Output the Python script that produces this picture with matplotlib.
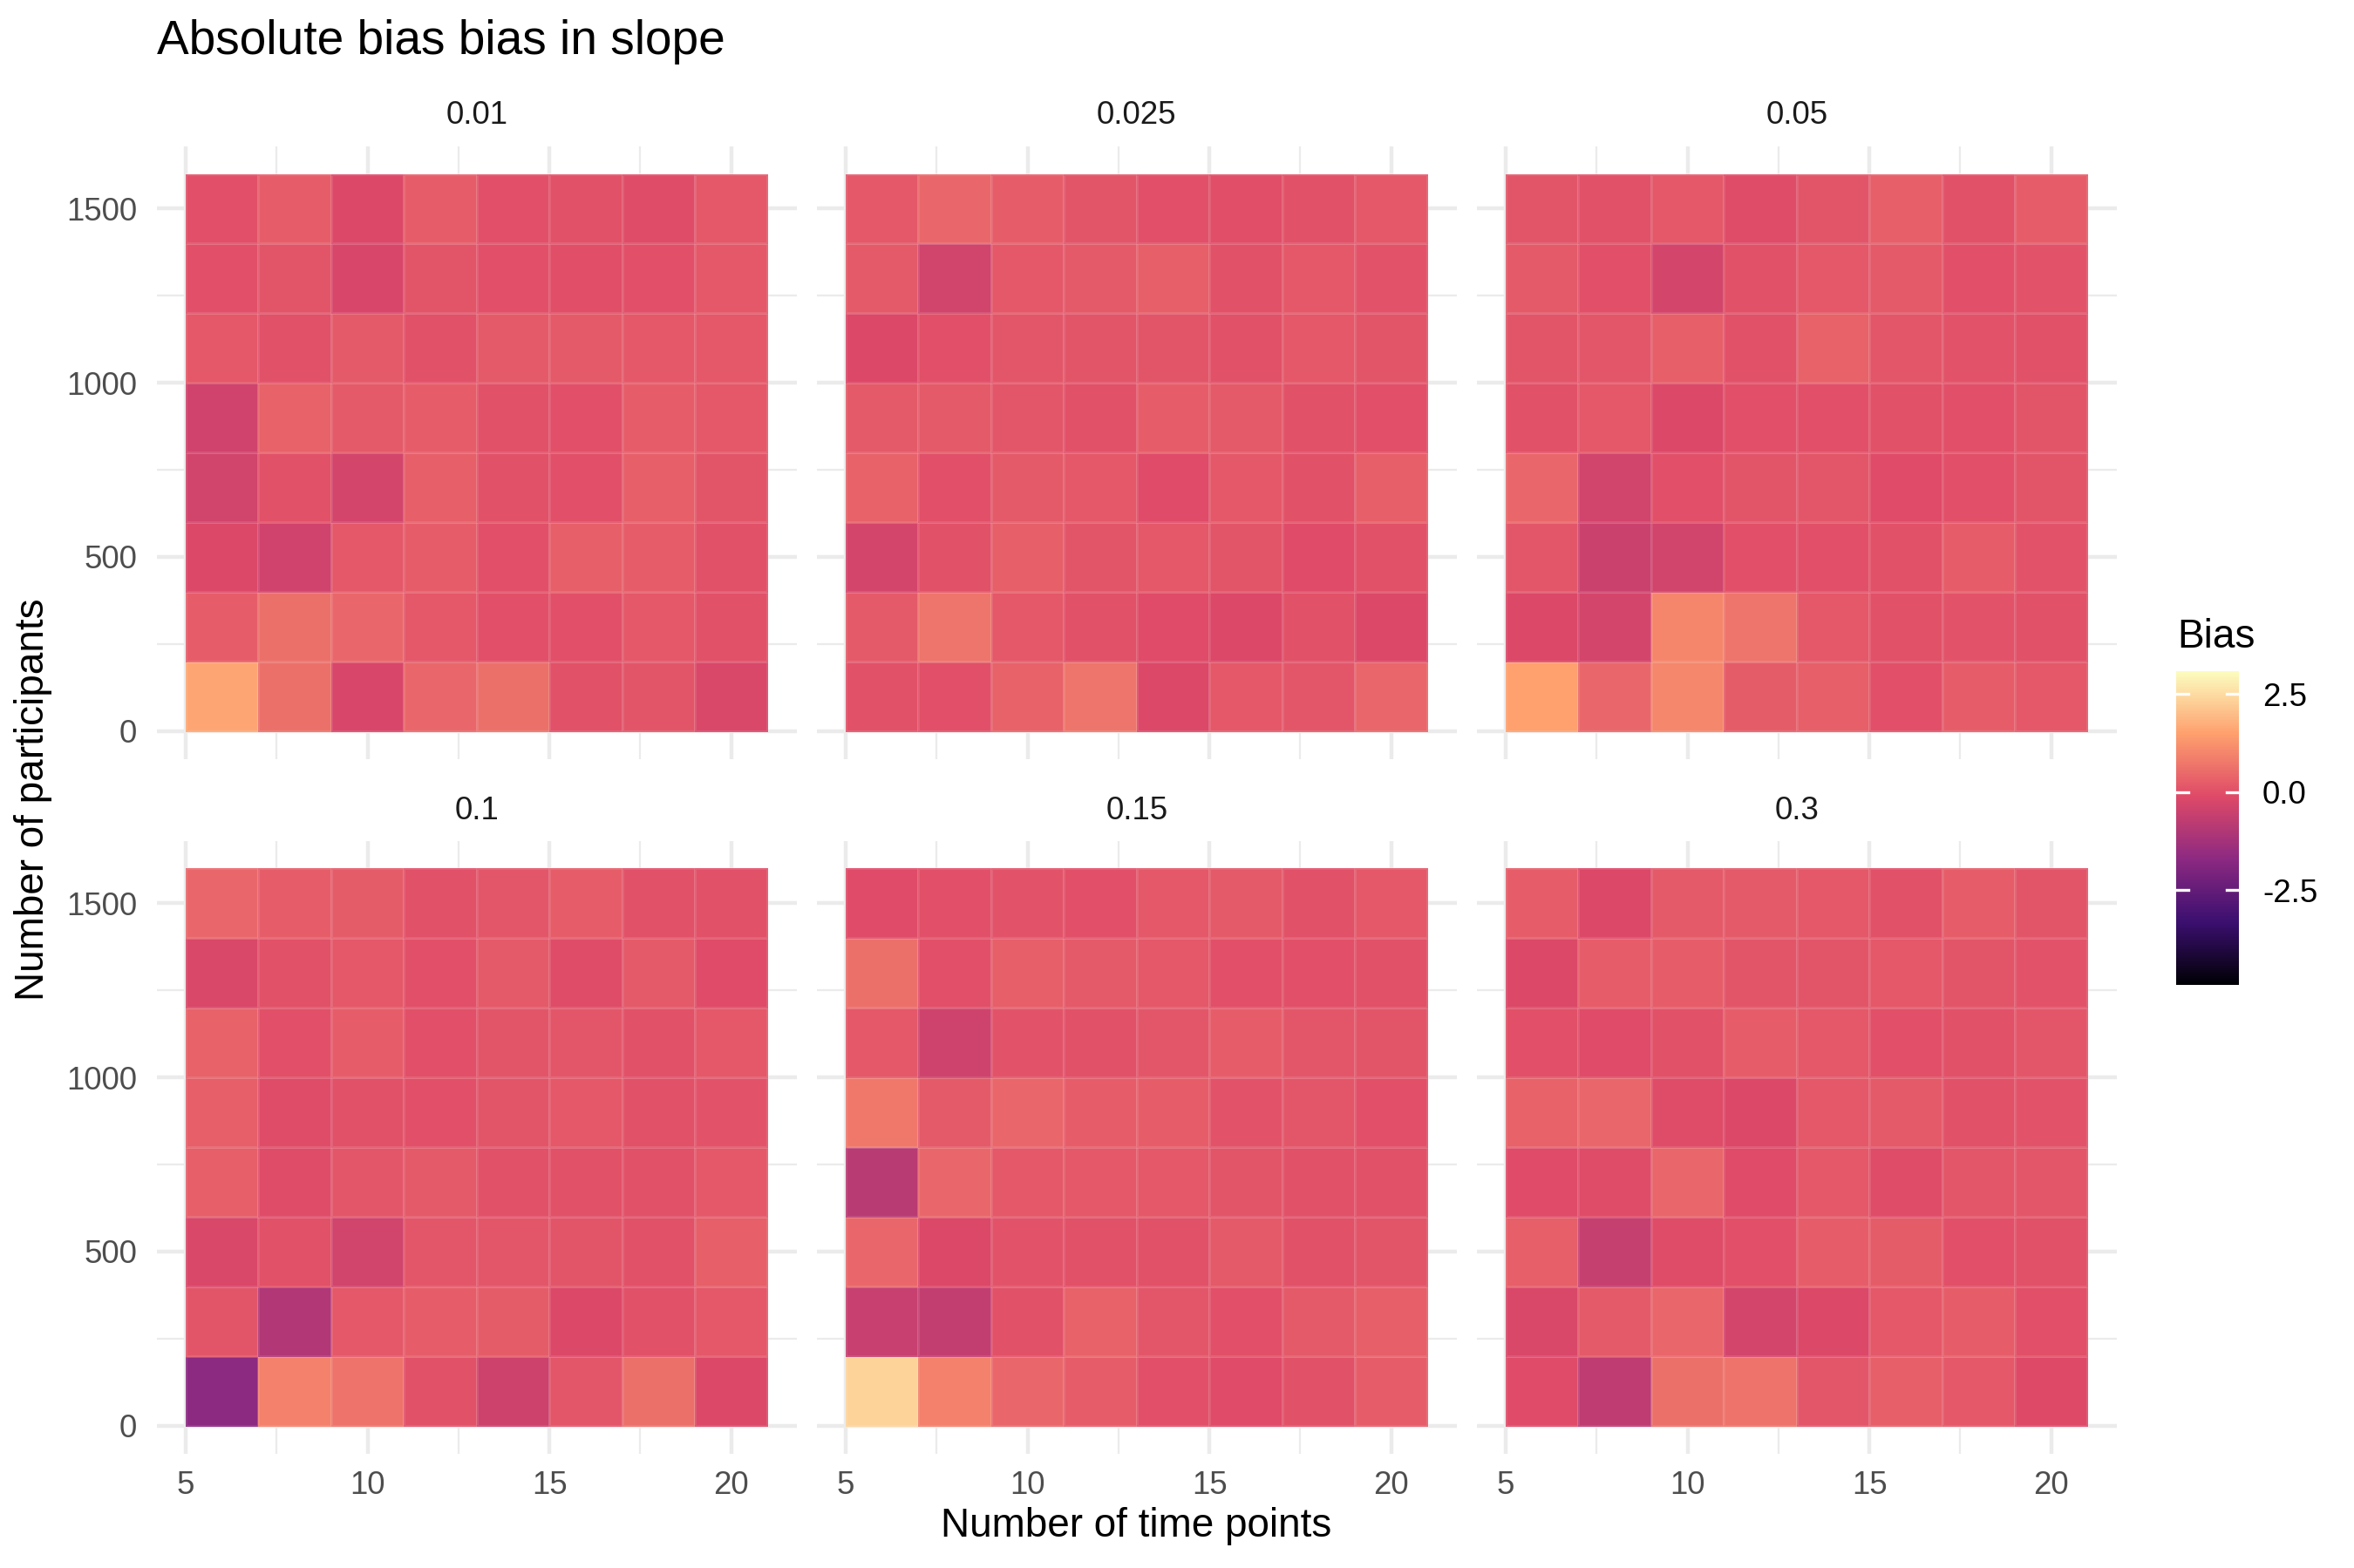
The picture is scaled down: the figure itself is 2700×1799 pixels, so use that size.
import numpy as np
import matplotlib
matplotlib.use("Agg")
import matplotlib.pyplot as plt
from matplotlib.colors import Normalize, LinearSegmentedColormap
from matplotlib.cm import ScalarMappable

plt.rcParams['font.family'] = ['Liberation Sans', 'DejaVu Sans']

time_points = [6, 8, 10, 12, 14, 16, 18, 20]
participants = [100, 300, 500, 700, 900, 1100, 1300, 1500]
facets = ["0.01", "0.025", "0.05", "0.1", "0.15", "0.3"]

# rows listed top (1500 participants) to bottom (100 participants)
bias_001 = [
    [0.0, 0.25, -0.15, 0.25, 0.0, 0.05, -0.05, 0.15],
    [0.0, 0.1, -0.25, 0.1, 0.0, -0.02, 0.0, 0.15],
    [0.15, 0.05, 0.2, 0.05, 0.2, 0.2, 0.15, 0.15],
    [-0.4, 0.35, 0.2, 0.25, 0.05, 0.0, 0.25, 0.15],
    [-0.38, 0.05, -0.35, 0.3, 0.05, 0.0, 0.3, 0.1],
    [-0.15, -0.4, 0.15, 0.25, 0.0, 0.3, 0.25, 0.05],
    [0.25, 0.6, 0.45, 0.15, 0.0, 0.0, 0.15, 0.05],
    [1.6, 0.6, -0.25, 0.45, 0.6, 0.05, 0.1, -0.2],
]
bias_0025 = [
    [0.15, 0.45, 0.25, 0.1, 0.0, -0.02, 0.05, 0.15],
    [0.2, -0.38, 0.15, 0.2, 0.3, 0.05, 0.15, 0.07],
    [-0.15, 0.0, 0.12, 0.1, 0.1, 0.05, 0.15, 0.1],
    [0.2, 0.2, 0.12, 0.05, 0.25, 0.2, 0.05, 0.0],
    [0.35, 0.0, 0.2, 0.15, -0.1, 0.15, 0.05, 0.3],
    [-0.3, 0.05, 0.3, 0.1, 0.15, 0.1, -0.1, 0.05],
    [0.2, 0.7, 0.15, 0.05, -0.1, -0.15, 0.05, -0.15],
    [0.05, 0.0, 0.35, 0.7, -0.15, 0.15, 0.12, 0.4],
]
bias_005 = [
    [0.1, 0.05, 0.15, -0.05, 0.1, 0.3, 0.05, 0.25],
    [0.2, 0.0, -0.3, 0.05, 0.15, 0.2, 0.0, 0.07],
    [0.1, 0.12, 0.3, 0.05, 0.35, 0.12, 0.08, 0.05],
    [0.05, 0.15, -0.15, 0.0, 0.0, 0.05, 0.02, 0.1],
    [0.45, -0.38, 0.0, 0.1, 0.12, -0.1, 0.0, 0.1],
    [0.12, -0.5, -0.38, 0.0, 0.0, 0.05, 0.25, 0.08],
    [-0.15, -0.3, 1.0, 0.7, 0.15, 0.05, 0.08, 0.05],
    [1.5, 0.45, 1.05, 0.22, 0.3, 0.0, 0.25, 0.15],
]
bias_01 = [
    [0.45, 0.25, 0.22, 0.05, 0.12, 0.25, 0.05, 0.05],
    [-0.2, 0.05, 0.15, 0.0, 0.2, -0.05, 0.2, -0.1],
    [0.35, 0.02, 0.25, 0.0, 0.1, 0.12, 0.05, 0.15],
    [0.3, -0.05, 0.05, 0.0, 0.1, 0.15, 0.05, 0.07],
    [0.3, -0.05, 0.12, 0.2, 0.05, 0.05, 0.05, 0.15],
    [-0.2, 0.05, -0.38, 0.12, 0.12, 0.1, 0.03, 0.3],
    [0.1, -1.0, 0.15, 0.25, 0.22, -0.15, 0.03, 0.15],
    [-1.7, 0.9, 0.65, 0.05, -0.45, 0.12, 0.6, -0.15],
]
bias_015 = [
    [-0.1, 0.02, 0.08, 0.0, 0.15, 0.18, 0.05, 0.15],
    [0.6, 0.02, 0.3, 0.2, 0.15, 0.0, 0.02, 0.05],
    [0.15, -0.42, 0.08, 0.05, 0.12, 0.25, 0.12, 0.1],
    [0.75, 0.2, 0.4, 0.25, 0.25, 0.08, 0.12, 0.02],
    [-0.85, 0.45, 0.15, 0.15, 0.15, 0.1, 0.05, 0.05],
    [0.45, -0.15, 0.08, 0.05, 0.05, 0.2, 0.03, 0.1],
    [-0.55, -0.65, 0.05, 0.35, 0.12, 0.02, 0.2, 0.3],
    [2.35, 0.9, 0.45, 0.25, 0.0, -0.08, 0.05, 0.25],
]
bias_03 = [
    [0.25, -0.15, 0.2, 0.2, 0.15, 0.05, 0.25, 0.1],
    [-0.15, 0.25, 0.25, 0.1, 0.1, 0.15, 0.1, 0.07],
    [0.02, -0.1, 0.05, 0.25, 0.15, 0.0, 0.05, 0.12],
    [0.35, 0.4, -0.05, -0.15, 0.15, 0.18, 0.03, 0.08],
    [-0.1, -0.05, 0.4, -0.1, 0.15, -0.05, 0.12, 0.12],
    [0.3, -0.6, -0.05, 0.0, 0.25, 0.22, 0.0, 0.05],
    [-0.2, 0.2, 0.4, -0.32, -0.15, 0.15, 0.25, 0.02],
    [-0.08, -0.75, 0.6, 0.65, 0.12, 0.3, 0.15, -0.12],
]
all_bias = [bias_001, bias_0025, bias_005, bias_01, bias_015, bias_03]

bias_min, bias_max = -4.91, 3.08
cbar_ticks = [-2.5, 0.0, 2.5]

# ggplot's viridis "magma" fill scale: 6 palette stops, interpolated
magma6 = ['#000004', '#3B0F70', '#8C2981', '#DE4968', '#FE9F6D', '#FCFDBF']
cmap = LinearSegmentedColormap.from_list('gg_magma', magma6, N=256)

W, H = 2700, 1799
fig = plt.figure(figsize=(W / 300, H / 300), dpi=300)

def fx(px):
    return px / W

def fy(py):
    return 1 - py / H

norm = Normalize(vmin=bias_min, vmax=bias_max)
grid_col = '#EBEBEB'
col_left = [179.7, 936.7, 1693.7]
row_top = [167.6, 964.5]
pw, ph = 734, 703

for i, (name, data) in enumerate(zip(facets, all_bias)):
    r, c = divmod(i, 3)
    ax = fig.add_axes([fx(col_left[c]), fy(row_top[r] + ph), pw / W, ph / H])
    z = np.flipud(np.array(data))
    ax.pcolormesh(time_points, participants, z, shading='nearest', cmap=cmap, norm=norm,
                  edgecolor=(1, 1, 1, 0.1), linewidth=0.3)
    ax.set_xlim(4.2, 21.8)
    ax.set_ylim(-80, 1680)
    ax.set_xticks([5, 10, 15, 20])
    ax.set_xticks([7.5, 12.5, 17.5], minor=True)
    ax.set_yticks([0, 500, 1000, 1500])
    ax.set_yticks([250, 750, 1250], minor=True)
    ax.set_axisbelow(True)
    ax.grid(True, which='major', color=grid_col, linewidth=1.07)
    ax.grid(True, which='minor', color=grid_col, linewidth=0.53)
    for s in ax.spines.values():
        s.set_visible(False)
    ax.tick_params(which='both', length=0, labelsize=8.8, labelcolor='#4D4D4D')
    ax.tick_params(axis='y', pad=5.4)
    ax.tick_params(axis='x', pad=4.6)
    if c != 0:
        ax.tick_params(axis='y', labelleft=False)
    if r == 0:
        ax.tick_params(axis='x', labelbottom=False)
    strip_y = 133 if r == 0 else 930
    fig.text(fx(col_left[c] + pw / 2), fy(strip_y), name, ha='center', va='center',
             fontsize=8.8, color='#1A1A1A')

fig.text(fx(179.7), fy(62), "Absolute bias bias in slope", fontsize=13.2, ha='left', va='baseline')
fig.text(fx(1303.5), fy(1751), "Number of time points", fontsize=11, ha='center', va='center')
fig.text(fx(38), fy(917), "Number of participants", fontsize=11, ha='center', va='center', rotation=90)

# colourbar legend
cax = fig.add_axes([fx(2496), fy(1130), 72 / W, 360 / H])
cb = fig.colorbar(ScalarMappable(norm=norm, cmap=cmap), cax=cax, ticks=cbar_ticks)
cb.outline.set_visible(False)
cax.tick_params(length=0, labelsize=8.8, pad=6.5, labelcolor='black')
cax.set_yticklabels(["-2.5", "0.0", "2.5"])
for t in cbar_ticks:
    cax.plot([0, 0.2], [t, t], color='white', linewidth=0.8, transform=cax.get_yaxis_transform())
    cax.plot([0.8, 1], [t, t], color='white', linewidth=0.8, transform=cax.get_yaxis_transform())
fig.text(fx(2497), fy(743), "Bias", fontsize=11, ha='left', va='baseline')

fig.savefig("out.png", dpi=300, facecolor='white')
